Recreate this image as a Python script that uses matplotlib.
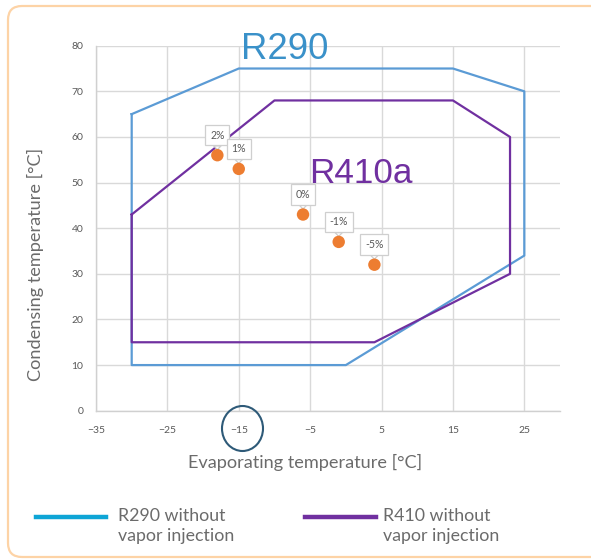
import matplotlib
matplotlib.use("Agg")
import matplotlib.pyplot as plt
from matplotlib.patches import FancyBboxPatch, Ellipse
from matplotlib.lines import Line2D
from matplotlib.transforms import IdentityTransform

# ---- data ----
r290_x = [-30, -15, 15, 25, 25, 0, -30, -30]
r290_y = [65, 75, 75, 70, 34, 10, 10, 65]
r410_x = [-30, -10, 15, 23, 23, 4, -30, -30]
r410_y = [43, 68, 68, 60, 30, 15, 15, 43]
pts_x = [-18, -15, -6, -1, 4]
pts_y = [56, 53, 43, 37, 32]
pt_labels = ["2%", "1%", "0%", "-1%", "-5%"]
x_ticks = [-35, -25, -15, -5, 5, 15, 25]
y_ticks = [0, 10, 20, 30, 40, 50, 60, 70, 80]
legend_labels = ["R290 without\nvapor injection", "R410 without\nvapor injection"]

W, H = 591, 560
fig = plt.figure(figsize=(W / 100, H / 100), dpi=100)
plt.rcParams["font.family"] = ["Lato", "DejaVu Sans"]

# orange rounded frame
frame = FancyBboxPatch((8, 3), 600, 551, boxstyle="round,pad=0,rounding_size=14",
                       transform=IdentityTransform(), fc="none", ec="#fdd3a6", lw=1.6,
                       zorder=-1)
fig.patches.append(frame)

ax = fig.add_axes([96 / W, 1 - 410.7 / H, (560 - 96) / W, (410.7 - 45.7) / H])
ax.set_facecolor("none")
ax.set_xlim(-35, 30)
ax.set_ylim(0, 80)
ax.set_xticks(x_ticks)
ax.set_yticks(y_ticks)
ax.grid(True, color="#d9d9d9", lw=1.0)
ax.set_axisbelow(True)
for s in ["top", "right"]:
    ax.spines[s].set_visible(False)
for s in ["left", "bottom"]:
    ax.spines[s].set_color("#d0d0d0")
    ax.spines[s].set_linewidth(1.0)
ax.tick_params(length=0, labelsize=7.5, labelcolor="#595959")
ax.tick_params(axis="y", pad=9)
ax.tick_params(axis="x", pad=11)

ax.plot(r290_x, r290_y, color="#5b9bd5", lw=1.6, zorder=2)
ax.plot(r410_x, r410_y, color="#7030a0", lw=1.6, zorder=2)
ax.scatter(pts_x, pts_y, s=80, color="#ed7d31", zorder=5, edgecolors="none")

for x, y, lab in zip(pts_x, pts_y, pt_labels):
    ax.annotate(lab, xy=(x, y), xytext=(0, 20), textcoords="offset pixels",
                ha="center", va="center", fontsize=7.6, color="#595959",
                bbox=dict(boxstyle="square,pad=0.45", fc="white", ec="#cfcfcf", lw=0.9),
                arrowprops=dict(arrowstyle="wedge,tail_width=0.7,shrink_factor=0.5",
                                fc="white", ec="#cfcfcf", lw=0.9, shrinkA=0, shrinkB=4),
                zorder=4)

ax.text(-14.7, 77.0, "R290", fontsize=26.3, color="#3a91c9", ha="left", va="baseline",
        family=["Liberation Sans", "DejaVu Sans"])
ax.text(-5.2, 49.8, "R410a", fontsize=25.3, color="#7030a0", ha="left", va="baseline",
        family=["Liberation Sans", "DejaVu Sans"])

ax.set_xlabel("Evaporating temperature [°C]", fontsize=13.1, color="#6b6b6b")
ax.set_ylabel("Condensing temperature [°C]", fontsize=13.1, color="#6b6b6b")
ax.xaxis.set_label_coords(0.45, -0.118)
ax.yaxis.set_label_coords(-0.112, 0.402)

# circle around -15 tick label
circ = Ellipse((242.5, H - 428.5), 41, 45, transform=IdentityTransform(),
               fill=False, ec="#2e5a78", lw=1.5)
fig.patches.append(circ)

# legend
leg_colors = ["#0ea5d6", "#7030a0"]
leg_line_x = [(35.8, 105.5), (304.6, 375.8)]
leg_text_x = [118, 382.6]
for (x0, x1), tx, c, lab in zip(leg_line_x, leg_text_x, leg_colors, legend_labels):
    fig.lines.append(Line2D([x0, x1], [H - 516.7, H - 516.7], color=c, lw=3.2,
                            transform=IdentityTransform()))
    fig.text(tx / W, 1 - 526 / H, lab, fontsize=12.8, color="#6b6b6b", ha="left",
             va="center", linespacing=1.3)

fig.savefig("out.png", dpi=100)
